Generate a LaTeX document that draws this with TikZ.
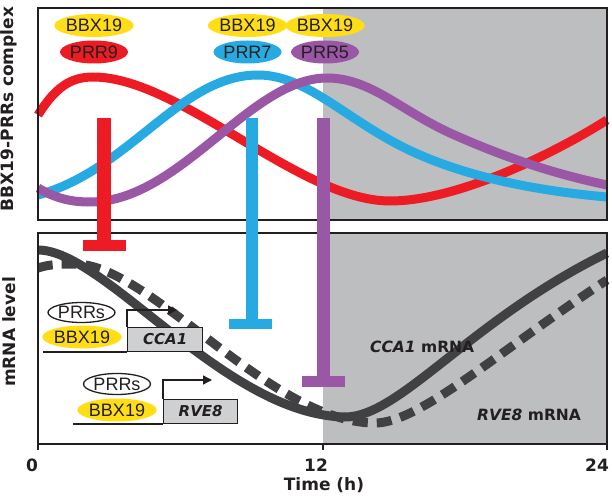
\documentclass[tikz,border=0pt]{standalone}
\usepackage{fontspec}
\setmainfont{Liberation Sans}
\newfontfamily\djv{DejaVu Sans}
\usetikzlibrary{arrows.meta,shapes.geometric}
\definecolor{cred}{HTML}{ED1C24}
\definecolor{cblue}{HTML}{27AAE1}
\definecolor{cpurple}{HTML}{9A57A6}
\definecolor{cyellow}{HTML}{FFDE17}
\definecolor{bggray}{HTML}{BCBEC0}
\definecolor{curvegray}{HTML}{414042}
\definecolor{boxgray}{HTML}{CFD0D2}
\definecolor{ink}{HTML}{231F20}
\begin{document}
\begin{tikzpicture}[x=1pt,y=-1pt,
  curve/.style={line width=9pt},
  frame/.style={draw=ink,line width=2pt},
  blob/.style={ellipse,inner sep=0pt,minimum width=68pt,minimum height=23pt,text=ink,font=\fontsize{18}{18}\selectfont},
  yblob/.style={blob,fill=cyellow},
  genebox/.style={draw=ink,line width=1.3pt,fill=boxgray,inner sep=0pt,minimum height=24pt,anchor=south west,text=ink,font=\djv\bfseries\itshape\fontsize{15}{15}\selectfont},
  lbl/.style={text=ink,inner sep=0pt,font=\djv\bfseries\fontsize{17}{17}\selectfont},
  gline/.style={draw=ink,line width=1.3pt},
  garrow/.style={draw=ink,line width=1.3pt,-{Triangle[length=9pt,width=9pt]}}
]
\useasboundingbox (0,0) rectangle (612,497);
% gray night
\fill[bggray] (323,8) rectangle (607,220);
\fill[bggray] (323,233) rectangle (607,444);
% top curves
\draw[curve,cred] (38,115) .. controls (55,88) and (70,77) .. (93,77)
  .. controls (180,77) and (300,201) .. (390,201)
  .. controls (460,201) and (560,150) .. (607,120);
\draw[curve,cblue] (38,195) .. controls (130,170) and (180,75) .. (258,75)
  .. controls (310,75) and (350,125) .. (420,155)
  .. controls (480,181) and (550,192) .. (607,197);
\draw[curve,cpurple] (38,188) .. controls (55,198) and (70,202) .. (90,202)
  .. controls (180,202) and (250,78) .. (327,78)
  .. controls (370,78) and (400,110) .. (450,133)
  .. controls (510,160) and (560,175) .. (607,185);
% bottom curves
\draw[curve,curvegray] (38,250) .. controls (105,250) and (225,415) .. (345,417)
  .. controls (400,417) and (470,320) .. (607,253);
\draw[curve,curvegray,dash pattern=on 15pt off 9pt] (38,268) .. controls (50,264) and (62,264) .. (75,264)
  .. controls (150,264) and (270,423) .. (375,423)
  .. controls (420,423) and (500,350) .. (607,280);
% frames
\draw[frame] (38,8) rectangle (607,220);
\draw[frame] (38,233) rectangle (607,444);
% ticks
\coordinate (t0) at (38,444); \coordinate (t12) at (323,444); \coordinate (t24) at (607,444);
\draw[frame] (t0) -- ++(0,6); \draw[frame] (t12) -- ++(0,6); \draw[frame] (t24) -- ++(0,6);
\node[lbl] (l0) at (32,465) {0};
\node[lbl] (l12) at (316,465) {12};
\node[lbl] (l24) at (597,465) {24};
\node[lbl] (xlab) at (324,485) {Time (h)};
\node[lbl,rotate=90] (ylab1) at (9,109) {BBX19-PRRs complex};
\node[lbl,rotate=90] (ylab2) at (9,332) {mRNA level};
% inhibition bars
\fill[cred] (97,118) rectangle (111,245);
\fill[cred] (83,240) rectangle (126,251);
\fill[cblue] (246,118) rectangle (258,324);
\fill[cblue] (229,319) rectangle (272,329);
\fill[cpurple] (317,118) rectangle (330,382);
\fill[cpurple] (302,376) rectangle (345,387);
% top ellipses
\node[yblob] (b1) at (94,25.5) {BBX19};
\node[blob,fill=cred] (p9) at (94,52) {PRR9};
\node[yblob] (b2) at (247.5,25.5) {BBX19};
\node[blob,fill=cblue] (p7) at (247.5,52) {PRR7};
\node[yblob] (b3) at (325,25.5) {BBX19};
\node[blob,fill=cpurple] (p5) at (325,52) {PRR5};
% CCA1 gene
\node[genebox,minimum width=75pt] (cca1) at (127,352) {CCA1};
\coordinate (cca1start) at (43,352);
\coordinate (cca1tip) at (177,310);
\draw[gline] (cca1start) -- (cca1.south west);
\draw[garrow] (cca1.north west) |- (cca1tip);
\node[blob,draw=ink,line width=1.3pt,fill=white,minimum width=67pt,minimum height=20pt] (prr1) at (81.5,312.5) {PRRs};
\node[yblob,minimum width=70pt] (bb1) at (82,337) {BBX19};
% RVE8 gene
\node[genebox,minimum width=74pt] (rve8) at (163,424) {RVE8};
\coordinate (rve8start) at (73,424);
\coordinate (rve8tip) at (212,380);
\draw[gline] (rve8start) -- (rve8.south west);
\draw[garrow] (rve8.north west) |- (rve8tip);
\node[blob,draw=ink,line width=1.3pt,fill=white,minimum width=67pt,minimum height=21pt] (prr2) at (117,384) {PRRs};
\node[yblob,minimum width=70pt] (bb2) at (117,410) {BBX19};
% curve labels
\node[lbl,anchor=west,font=\djv\bfseries\fontsize{15.5}{15.5}\selectfont] (cl) at (370,347) {{\itshape CCA1} mRNA};
\node[lbl,anchor=west,font=\djv\bfseries\fontsize{15.5}{15.5}\selectfont] (rl) at (477,415) {{\itshape RVE8} mRNA};
\end{tikzpicture}
\end{document}
